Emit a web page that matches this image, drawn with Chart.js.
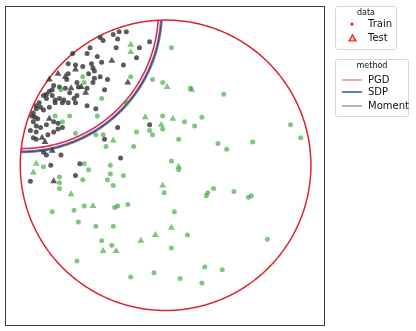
<!DOCTYPE html>
<html>
<head>
<meta charset="utf-8">
<script src="https://cdn.jsdelivr.net/npm/chart.js@4.4.1/dist/chart.umd.min.js"></script>
<style>
  body { margin: 0; background: #fff; font-family: "DejaVu Sans", sans-serif; }
  #wrap { position: relative; width: 416px; height: 331px; }
  .legend { position: absolute; border: 1px solid #d6d6d6; border-radius: 3px; background: #fff; color: #111; }
  .legend .title { position: absolute; left: 0; right: 0; text-align: center; font-size: 8px; line-height: 10px; }
  .legend .item { position: absolute; font-size: 10px; line-height: 12px; white-space: nowrap; }
  .legend svg { position: absolute; }
</style>
</head>
<body>
<div id="wrap">
  <canvas id="myChart" width="416" height="331"></canvas>
  <div class="legend" style="left:335px; top:6px; width:60px; height:42px;">
    <div class="title" style="top:1px;">data</div>
    <svg style="left:12px; top:13px;" width="8" height="8"><circle cx="4" cy="4" r="1.6" fill="#e41a1c"/></svg>
    <div class="item" style="left:32px; top:11px;">Train</div>
    <svg style="left:12px; top:27px;" width="9" height="8"><polygon points="4.5,0.8 8,7 1,7" fill="#f6b2b2" stroke="#e41a1c" stroke-width="1.2"/></svg>
    <div class="item" style="left:32px; top:25px;">Test</div>
  </div>
  <div class="legend" id="methodLegend" style="left:335px; top:59px; width:72px; height:56px;">
    <div class="title" style="top:1px;">method</div>
  </div>
</div>
<script>
// scatter points, unit circle coordinates [x, y]
const trainInside = [
  [-0.32,0.92],[-0.27,0.92],[-0.36,0.90],[-0.45,0.88],[-0.43,0.86],[-0.33,0.87],[-0.34,0.81],[-0.11,0.85],
  [-0.52,0.81],[-0.54,0.77],[-0.47,0.75],[-0.44,0.71],[-0.29,0.69],[-0.20,0.74],[-0.67,0.70],[-0.64,0.77],
  [-0.61,0.57],[-0.53,0.63],[-0.49,0.65],[-0.45,0.61],[-0.40,0.59],[-0.54,0.53],[-0.60,0.54],[-0.69,0.53],
  [-0.73,0.54],[-0.77,0.55],[-0.78,0.52],[-0.80,0.51],[-0.82,0.49],[-0.84,0.48],[-0.82,0.46],[-0.78,0.48],
  [-0.73,0.46],[-0.71,0.43],[-0.76,0.45],[-0.87,0.43],[-0.89,0.41],[-0.89,0.39],[-0.86,0.40],[-0.84,0.38],
  [-0.80,0.40],[-0.76,0.43],[-0.70,0.45],[-0.67,0.43],[-0.63,0.46],[-0.61,0.48],[-0.54,0.41],[-0.48,0.39],
  [-0.42,0.52],[-0.91,0.36],[-0.92,0.34],[-0.90,0.33],[-0.88,0.32],[-0.91,0.30],[-0.89,0.27],[-0.93,0.24],
  [-0.89,0.23],[-0.86,0.26],[-0.82,0.28],[-0.77,0.30],[-0.74,0.29],[-0.71,0.26],[-0.74,0.25],[-0.77,0.23],
  [-0.81,0.21],[-0.91,0.19],[-0.89,0.18],[-0.51,0.70],[-0.62,0.69],[-0.57,0.68],[-0.67,0.63],[-0.50,0.57],
  [-0.68,0.59],[-0.66,0.50],[-0.62,0.43],[-0.18,0.81],[-0.49,0.60],[-0.50,0.67],
  [-0.33,0.26],[-0.11,0.28],[-0.42,0.18],[-0.31,0.05],[-0.84,0.09],
  [-0.82,0.07],[-0.72,0.07],[-0.79,0.00],[-0.59,0.01],[-0.62,-0.07],[-0.93,-0.11]
];
const testInside = [
  [-0.37,0.72],[-0.69,0.61],[-0.74,0.63],[-0.80,0.59],[-0.55,0.50],[-0.58,0.54],[-0.65,0.53],[-0.26,0.57],
  [-0.80,0.32],[-0.85,0.19],[-0.83,0.16],[-0.62,0.66],[-0.78,0.10],[-0.77,-0.11]
];
const trainOutside = [
  [-0.57,0.61],[-0.56,0.57],[-0.72,0.52],[-0.44,0.46],[-0.76,0.34],[-0.66,0.34],[-0.71,0.30],[-0.47,0.34],
  [-0.62,0.22],[-0.43,0.21],[-0.48,0.21],[-0.27,0.43],[0.04,0.81],[-0.24,0.61],[-0.09,0.59],[-0.02,0.57],[0.17,0.53],
  [0.40,0.49],[-0.02,0.34],[0.13,0.30],[0.25,0.33],[0.20,0.27],[-0.02,0.25],[-0.09,0.21],[-0.11,0.24],
  [-0.20,0.23],[0.09,0.18],[0.36,0.15],[0.42,0.11],[0.60,0.16],[0.86,0.28],[0.93,0.19],[0.04,0.03],
  [0.09,-0.03],[-0.01,-0.19],[0.28,-0.21],[0.29,-0.19],[0.33,-0.16],[0.47,-0.18],[0.57,-0.22],[0.59,-0.21],
  [0.06,-0.32],[0.15,-0.48],[0.04,-0.57],[0.70,-0.51],[-0.08,-0.74],[0.10,-0.78],[0.27,-0.70],[0.39,-0.72],
  [0.25,-0.81],[-0.41,0.13],[-0.22,0.13],[-0.84,-0.01],[-0.56,0.01],[-0.53,-0.03],[-0.38,0.00],[-0.57,-0.10],
  [-0.38,-0.06],[-0.29,-0.07],[-0.40,-0.10],[-0.36,-0.14],[-0.73,-0.08],[-0.73,-0.12],[-0.73,-0.16],[-0.78,-0.32],
  [-0.63,-0.31],[-0.56,-0.28],[-0.35,-0.29],[-0.33,-0.28],[-0.26,-0.27],[-0.60,-0.39],[-0.48,-0.42],[-0.36,-0.42],
  [-0.44,-0.52],[-0.37,-0.55],[-0.61,-0.66],[-0.24,-0.77]
];
const testOutside = [
  [-0.24,0.83],[-0.24,0.78],[0.01,0.54],[0.18,0.52],[0.05,0.32],[-0.14,0.33],[-0.03,0.28],[-0.36,0.17],
  [0.09,-0.01],[-0.02,-0.14],[0.04,-0.43],[-0.07,-0.48],[-0.17,-0.52],[-0.43,-0.59],[-0.34,-0.59],[-0.50,-0.28],
  [-0.65,-0.20],[-0.89,0.01],[-0.91,-0.05]
];

// fitted boundaries: outer domain circle and one circle per method
const domainCircle = [0, 0, 1];
const methods = ['PGD', 'SDP', 'Moment'];
const methodCenterX = [-0.99, -0.99, -0.99];
const methodCenterY = [1.055, 1.055, 1.055];
const methodRadius = [0.94, 0.962, 0.962];

const methodColor = ['rgba(220,20,60,0.9)', 'rgba(40,40,170,0.75)', 'rgba(128,128,128,0.95)'];
const methodLegendColor = ['#ea8ea2', '#4848b8', '#9a9a9a'];
const methodWidth = [1.6, 1.1, 3];
const drawOrder = [2, 1, 0];

const darkColor = 'rgba(50,50,50,0.8)';
const greenColor = 'rgba(44,160,44,0.6)';

// method legend rows
const legendBox = document.getElementById('methodLegend');
const rowTops = [14, 26, 40];
methods.forEach((m, i) => {
  const line = document.createElementNS('http://www.w3.org/2000/svg', 'svg');
  line.setAttribute('width', '20'); line.setAttribute('height', '4');
  line.style.left = '6px'; line.style.top = (rowTops[i] + 4) + 'px';
  line.innerHTML = `<line x1="0" y1="2" x2="20" y2="2" stroke="${methodLegendColor[i]}" stroke-width="1.5"/>`;
  legendBox.appendChild(line);
  const t = document.createElement('div');
  t.className = 'item'; t.textContent = m;
  t.style.left = '32px'; t.style.top = rowTops[i] + 'px';
  legendBox.appendChild(t);
});

const boundaries = {
  id: 'boundaries',
  beforeDatasetsDraw(chart) {
    const { ctx, scales: { x, y } } = chart;
    const circle = (cx, cy, r) => {
      ctx.beginPath();
      for (let i = 0; i <= 720; i++) {
        const a = i * Math.PI / 360;
        const px = x.getPixelForValue(cx + r * Math.cos(a));
        const py = y.getPixelForValue(cy + r * Math.sin(a));
        if (i === 0) ctx.moveTo(px, py); else ctx.lineTo(px, py);
      }
      ctx.closePath();
    };
    ctx.save();
    circle(domainCircle[0], domainCircle[1], domainCircle[2]);
    ctx.clip();
    drawOrder.forEach(i => {
      circle(methodCenterX[i], methodCenterY[i], methodRadius[i]);
      ctx.strokeStyle = methodColor[i];
      ctx.lineWidth = methodWidth[i];
      ctx.stroke();
    });
    ctx.restore();
    ctx.save();
    circle(domainCircle[0], domainCircle[1], domainCircle[2]);
    ctx.strokeStyle = '#dc2230';
    ctx.lineWidth = 1.5;
    ctx.stroke();
    ctx.restore();
  },
  afterDraw(chart) {
    const { ctx, chartArea: a } = chart;
    ctx.save();
    ctx.strokeStyle = '#3a3a3a';
    ctx.lineWidth = 1;
    ctx.strokeRect(a.left + 0.5, a.top + 0.5, a.right - a.left, a.bottom - a.top);
    ctx.restore();
  }
};

const toPts = arr => arr.map(p => ({ x: p[0], y: p[1] }));

const ctx = document.getElementById('myChart');
const myChart = new Chart(ctx, {
  type: 'scatter',
  data: {
    datasets: [
      { label: 'Train', data: toPts(trainOutside), backgroundColor: greenColor, pointRadius: 2.5, borderWidth: 0 },
      { label: 'Test', data: toPts(testOutside), backgroundColor: greenColor, pointStyle: 'triangle', pointRadius: 4, borderWidth: 0 },
      { label: 'Train', data: toPts(trainInside), backgroundColor: darkColor, pointRadius: 2.5, borderWidth: 0 },
      { label: 'Test', data: toPts(testInside), backgroundColor: darkColor, pointStyle: 'triangle', pointRadius: 4, borderWidth: 0 },
    ]
  },
  options: {
    responsive: false,
    animation: false,
    devicePixelRatio: 1,
    layout: { padding: { left: 5, top: 6, right: 92, bottom: 6 } },
    plugins: { legend: { display: false }, tooltip: { enabled: false } },
    scales: {
      x: { type: 'linear', min: -1.105, max: 1.09, display: false },
      y: { type: 'linear', min: -1.1, max: 1.097, display: false }
    }
  },
  plugins: [boundaries]
});
</script>
</body>
</html>
